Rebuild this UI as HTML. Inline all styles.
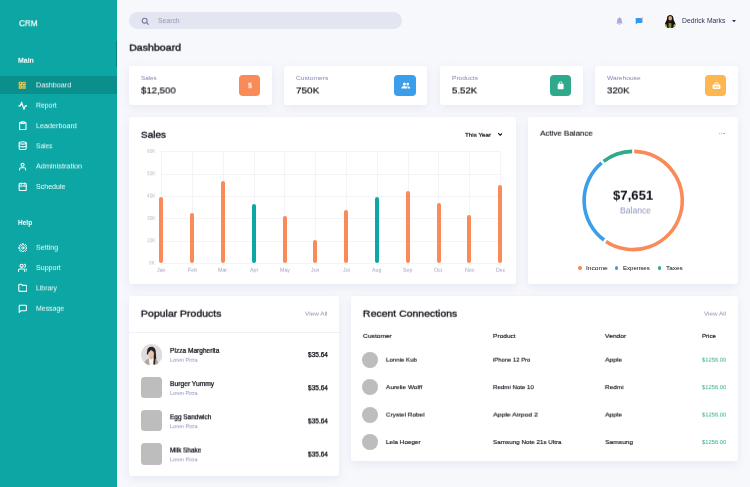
<!DOCTYPE html>
<html><head><meta charset="utf-8"><title>CRM Dashboard</title>
<style>
html,body{margin:0;padding:0;}
body{width:750px;height:487px;overflow:hidden;position:relative;background:#F7F8FC;font-family:"Liberation Sans",sans-serif;}
.t{position:absolute;white-space:nowrap;will-change:transform;transform-origin:0 50%;}
.b{position:absolute;}
</style></head><body>
<div class="b" style="left:0.00px;top:0.00px;width:117.00px;height:487.00px;background:#0CA7A5;"></div>
<div class="b" style="left:0.00px;top:76.00px;width:117.00px;height:17.70px;background:#0A8F8D;"></div>
<div class="b" style="left:116.00px;top:41.00px;width:1.00px;height:26.00px;background:rgba(0,0,0,0.22);"></div>
<div class="t" style="left:18.50px;top:17px;font-size:8.6px;line-height:11px;font-weight:400;color:#fff;letter-spacing:0.000px;transform:translateY(1.26px) rotate(0.03deg) scaleX(0.9446);-webkit-text-stroke:0.2px #fff;">CRM</div>
<div class="t" style="left:18.00px;top:56px;font-size:6.4px;line-height:8px;font-weight:700;color:#fff;letter-spacing:0.000px;transform:translateY(0.79px) rotate(0.03deg) scaleX(1.0906);">Main</div>
<div class="t" style="left:36.00px;top:80px;font-size:6.6px;line-height:8px;font-weight:400;color:rgba(255,255,255,0.93);letter-spacing:0.000px;transform:translateY(1.39px) rotate(0.03deg) scaleX(1.0933);">Dashboard</div>
<div class="t" style="left:36.00px;top:101px;font-size:6.6px;line-height:8px;font-weight:400;color:rgba(255,255,255,0.93);letter-spacing:0.000px;transform:translateY(0.69px) rotate(0.03deg) scaleX(1.0399);">Report</div>
<div class="t" style="left:36.00px;top:121px;font-size:6.6px;line-height:8px;font-weight:400;color:rgba(255,255,255,0.93);letter-spacing:0.000px;transform:translateY(1.19px) rotate(0.03deg) scaleX(1.0926);">Leaderboard</div>
<div class="t" style="left:36.00px;top:141px;font-size:6.6px;line-height:8px;font-weight:400;color:rgba(255,255,255,0.93);letter-spacing:0.000px;transform:translateY(1.29px) rotate(0.03deg) scaleX(0.9873);">Sales</div>
<div class="t" style="left:36.00px;top:162px;font-size:6.6px;line-height:8px;font-weight:400;color:rgba(255,255,255,0.93);letter-spacing:-0.000px;transform:translateY(0.49px) rotate(0.03deg) scaleX(1.1048);">Administration</div>
<div class="t" style="left:36.00px;top:182px;font-size:6.6px;line-height:8px;font-weight:400;color:rgba(255,255,255,0.93);letter-spacing:0.000px;transform:translateY(0.99px) rotate(0.03deg) scaleX(1.0682);">Schedule</div>
<div class="t" style="left:17.90px;top:218px;font-size:6.4px;line-height:8px;font-weight:700;color:#fff;letter-spacing:-0.000px;transform:translateY(0.89px) rotate(0.03deg) scaleX(1.0239);">Help</div>
<div class="t" style="left:36.00px;top:243px;font-size:6.6px;line-height:8px;font-weight:400;color:rgba(255,255,255,0.93);letter-spacing:-0.000px;transform:translateY(0.79px) rotate(0.03deg) scaleX(1.0755);">Setting</div>
<div class="t" style="left:36.00px;top:263px;font-size:6.6px;line-height:8px;font-weight:400;color:rgba(255,255,255,0.93);letter-spacing:0.000px;transform:translateY(1.09px) rotate(0.03deg) scaleX(1.0728);">Support</div>
<div class="t" style="left:36.00px;top:283px;font-size:6.6px;line-height:8px;font-weight:400;color:rgba(255,255,255,0.93);letter-spacing:0.000px;transform:translateY(1.39px) rotate(0.03deg) scaleX(1.0409);">Library</div>
<div class="t" style="left:36.00px;top:304px;font-size:6.6px;line-height:8px;font-weight:400;color:rgba(255,255,255,0.93);letter-spacing:0.000px;transform:translateY(0.79px) rotate(0.03deg) scaleX(1.0530);">Message</div>
<svg class="b" style="left:18.35px;top:81.00px" width="8.4" height="8.4" viewBox="0 0 24 24" fill="none" stroke="#F7C646" stroke-width="3.2" stroke-linecap="round" stroke-linejoin="round"><rect x="3.5" y="3.5" width="6.5" height="6.5"/><rect x="14" y="3.5" width="6.5" height="6.5"/><rect x="3.5" y="14" width="6.5" height="6.5"/><rect x="14" y="14" width="6.500" height="6.500"/></svg>
<svg class="b" style="left:17.50px;top:100.50px" width="9.6" height="9.6" viewBox="0 0 24 24" fill="none" stroke="#fff" stroke-width="2.9" stroke-linecap="round" stroke-linejoin="round"><polyline points="22 12 18 12 15 21 9 3 6 12 2 12"/></svg>
<svg class="b" style="left:17.70px;top:120.80px" width="9.6" height="9.6" viewBox="0 0 24 24" fill="none" stroke="#fff" stroke-width="2.7" stroke-linecap="round" stroke-linejoin="round"><path d="M16 4h2a2 2 0 0 1 2 2v14a2 2 0 0 1-2 2H6a2 2 0 0 1-2-2V6a2 2 0 0 1 2-2h2"/><rect x="8" y="2" width="8" height="4" rx="1"/></svg>
<svg class="b" style="left:17.60px;top:141.10px" width="9.4" height="9.4" viewBox="0 0 24 24" fill="none" stroke="#fff" stroke-width="2.7" stroke-linecap="round" stroke-linejoin="round"><ellipse cx="12" cy="5" rx="9" ry="3"/><path d="M21 12c0 1.66-4 3-9 3s-9-1.34-9-3"/><path d="M3 5v14c0 1.66 4 3 9 3s9-1.34 9-3V5"/></svg>
<svg class="b" style="left:17.90px;top:161.60px" width="9.2" height="9.2" viewBox="0 0 24 24" fill="none" stroke="#fff" stroke-width="2.7" stroke-linecap="round" stroke-linejoin="round"><path d="M20 21v-2a4 4 0 0 0-4-4H8a4 4 0 0 0-4 4v2"/><circle cx="12" cy="7" r="4"/></svg>
<svg class="b" style="left:17.60px;top:181.90px" width="9.4" height="9.4" viewBox="0 0 24 24" fill="none" stroke="#fff" stroke-width="2.7" stroke-linecap="round" stroke-linejoin="round"><rect x="3" y="4" width="18" height="18" rx="2"/><line x1="16" y1="2" x2="16" y2="6"/><line x1="8" y1="2" x2="8" y2="6"/><line x1="3" y1="10" x2="21" y2="10"/></svg>
<svg class="b" style="left:17.50px;top:242.60px" width="9.8" height="9.8" viewBox="0 0 24 24" fill="none" stroke="#fff" stroke-width="2.3" stroke-linecap="round" stroke-linejoin="round"><path d="M10.23 4.61 L10.62 1.69 L13.38 1.69 L13.77 4.61 L15.97 5.52 L18.31 3.73 L20.27 5.69 L18.48 8.03 L19.39 10.23 L22.31 10.62 L22.31 13.38 L19.39 13.77 L18.48 15.97 L20.27 18.31 L18.31 20.27 L15.97 18.48 L13.77 19.39 L13.38 22.31 L10.62 22.31 L10.23 19.39 L8.03 18.48 L5.69 20.27 L3.73 18.31 L5.52 15.97 L4.61 13.77 L1.69 13.38 L1.69 10.62 L4.61 10.23 L5.52 8.03 L3.73 5.69 L5.69 3.73 L8.03 5.52Z"/><circle cx="12" cy="12" r="2.800"/></svg>
<svg class="b" style="left:17.60px;top:262.80px" width="9.6" height="9.6" viewBox="0 0 24 24" fill="none" stroke="#fff" stroke-width="2.7" stroke-linecap="round" stroke-linejoin="round"><path d="M17 21v-2a4 4 0 0 0-4-4H5a4 4 0 0 0-4 4v2"/><circle cx="9" cy="7" r="4"/><path d="M23 21v-2a4 4 0 0 0-3-3.87"/><path d="M16 3.13a4 4 0 0 1 0 7.75"/></svg>
<svg class="b" style="left:17.60px;top:283.10px" width="9.6" height="9.6" viewBox="0 0 24 24" fill="none" stroke="#fff" stroke-width="2.7" stroke-linecap="round" stroke-linejoin="round"><path d="M22 19a2 2 0 0 1-2 2H4a2 2 0 0 1-2-2V5a2 2 0 0 1 2-2h5l2 3h9a2 2 0 0 1 2 2z"/></svg>
<svg class="b" style="left:17.60px;top:303.50px" width="9.6" height="9.6" viewBox="0 0 24 24" fill="none" stroke="#fff" stroke-width="2.7" stroke-linecap="round" stroke-linejoin="round"><path d="M21 15a2 2 0 0 1-2 2H7l-4 4V5a2 2 0 0 1 2-2h14a2 2 0 0 1 2 2z"/></svg>
<div class="b" style="left:129.00px;top:11.60px;width:273.40px;height:17.60px;background:#E3E5F0;border-radius:9px;"></div>
<svg class="b" style="left:140.80px;top:16.50px" width="8.4" height="8.4" viewBox="0 0 24 24" fill="none" stroke="#7277A0" stroke-width="3.0" stroke-linecap="round" stroke-linejoin="round"><circle cx="10.5" cy="10.5" r="7"/><line x1="21" y1="21" x2="15.6" y2="15.6"/></svg>
<div class="t" style="left:157.90px;top:16px;font-size:6.4px;line-height:8px;font-weight:400;color:#9196B4;letter-spacing:0.000px;transform:translateY(1.09px) rotate(0.03deg) scaleX(1.0701);">Search</div>
<svg class="b" style="left:616.2px;top:16.6px" width="7" height="8.4" viewBox="0 0 14 17"><path fill="#A9A8D7" d="M7 0.6c-.7 0-1.2.5-1.2 1.1v.5C3.6 2.8 2.3 4.7 2.3 7v3.4L.8 12.3c-.3.4 0 1 .5 1h11.4c.5 0 .8-.6.5-1l-1.5-1.9V7c0-2.3-1.300-4.200-3.500-4.800v-.5C8.200 1.100 7.700.6 7 .6zM5.300 14.300h3.400c0 .9-.800 1.700-1.700 1.700s-1.700-.8-1.700-1.700z"/></svg>
<svg class="b" style="left:634.6px;top:16.6px" width="8.4" height="8" viewBox="0 0 17 16"><path fill="#2E9AF1" d="M2 2h11.500a1.500 1.500 0 0 1 1.500 1.500v7a1.500 1.500 0 0 1-1.500 1.500H5l-3.500 3V3.500A1.500 1.500 0 0 1 2 2z"/><circle cx="14.600" cy="2.400" r="1.900" fill="#F78B5C" stroke="#F8F9FD" stroke-width=".6"/></svg>
<svg class="b" style="left:663.8px;top:14.6px" width="12.4" height="13.4" viewBox="-14 -15 28 30"><defs><clipPath id="av"><ellipse cx="0" cy="0" rx="14" ry="15"/></clipPath></defs><g clip-path="url(#av)"><rect x="-14" y="-15" width="28" height="30" fill="#FAFAFD"/><path d="M0-15.500c-4.500 0-7 3-7.200 7.500C-7.500-3-10-1-11.500 4c-1 3.500-1.500 7-1.500 11h26c0-4-.5-7.500-1.500-11C10-1 7.500-3 7.200-8 7-12.500 4.500-15.500 0-15.500z" fill="#14110f"/><path d="M-14 15c0-5 1-8.500 3.500-10l3 2.500V15zM14 15c0-5-1-8.500-3.500-10l-3 2.500V15z" fill="#b3b35e"/><ellipse cx="0" cy="-7.400" rx="4.100" ry="5.400" fill="#dba986"/><path d="M-3.700-5.200c1 1.500 2.400 2.200 3.700 2.200s2.700-.7 3.700-2.200c-.2 3-1.500 6.200-3.700 6.200s-3.500-3.200-3.700-6.200z" fill="#3f2b21"/><path d="M-3.800 2.500c1.200.8 2.500 1 3.800 1 1 0 2-.2 2.800-.8L2.500 15h-6z" fill="#7f8a45"/></g></svg>
<div class="t" style="left:681.60px;top:16px;font-size:6.6px;line-height:8px;font-weight:400;color:#2C3556;letter-spacing:0.000px;transform:translateY(0.99px) rotate(0.03deg) scaleX(1.0291);">Dedrick Marks</div>
<svg class="b" style="left:731.6px;top:19.6px" width="4" height="2.4" viewBox="0 0 8 5"><path d="M0 0h8L4 5z" fill="#2C3556"/></svg>
<div class="t" style="left:129.20px;top:41px;font-size:9.4px;line-height:12px;font-weight:400;color:#0B0B14;letter-spacing:0.000px;transform:translateY(0.66px) rotate(0.03deg) scaleX(1.1329);-webkit-text-stroke:0.32px #0B0B14;">Dashboard</div>
<div class="b" style="left:129.00px;top:65.80px;width:143.10px;height:39.10px;background:#fff;border-radius:3px;box-shadow:0 3px 10px rgba(150,160,205,0.16);"></div>
<div class="t" style="left:141.00px;top:74px;font-size:5.6px;line-height:7px;font-weight:400;color:#7E84AE;letter-spacing:0.000px;transform:translateY(0.89px) rotate(0.03deg) scaleX(1.1136);">Sales</div>
<div class="t" style="left:141.00px;top:84px;font-size:9.7px;line-height:12px;font-weight:400;color:#0B0B14;letter-spacing:0.000px;transform:translateY(0.46px) rotate(0.03deg) scaleX(0.9896);-webkit-text-stroke:0.18px #0B0B14;">$12,500</div>
<div class="b" style="left:239.00px;top:74.70px;width:21.30px;height:21.30px;background:#F98B58;border-radius:4px;"></div>
<div class="b" style="left:284.40px;top:65.80px;width:143.10px;height:39.10px;background:#fff;border-radius:3px;box-shadow:0 3px 10px rgba(150,160,205,0.16);"></div>
<div class="t" style="left:296.40px;top:74px;font-size:5.6px;line-height:7px;font-weight:400;color:#7E84AE;letter-spacing:0.000px;transform:translateY(0.89px) rotate(0.03deg) scaleX(1.1930);">Customers</div>
<div class="t" style="left:296.40px;top:84px;font-size:9.7px;line-height:12px;font-weight:400;color:#0B0B14;letter-spacing:-0.000px;transform:translateY(0.46px) rotate(0.03deg) scaleX(1.0285);-webkit-text-stroke:0.18px #0B0B14;">750K</div>
<div class="b" style="left:394.40px;top:74.70px;width:21.30px;height:21.30px;background:#3B9EEA;border-radius:4px;"></div>
<div class="b" style="left:439.80px;top:65.80px;width:143.10px;height:39.10px;background:#fff;border-radius:3px;box-shadow:0 3px 10px rgba(150,160,205,0.16);"></div>
<div class="t" style="left:451.80px;top:74px;font-size:5.6px;line-height:7px;font-weight:400;color:#7E84AE;letter-spacing:0.000px;transform:translateY(0.89px) rotate(0.03deg) scaleX(1.1765);">Products</div>
<div class="t" style="left:451.80px;top:84px;font-size:9.7px;line-height:12px;font-weight:400;color:#0B0B14;letter-spacing:0.000px;transform:translateY(0.46px) rotate(0.03deg) scaleX(0.9980);-webkit-text-stroke:0.18px #0B0B14;">5.52K</div>
<div class="b" style="left:549.80px;top:74.70px;width:21.30px;height:21.30px;background:#2FA98B;border-radius:4px;"></div>
<div class="b" style="left:595.20px;top:65.80px;width:143.10px;height:39.10px;background:#fff;border-radius:3px;box-shadow:0 3px 10px rgba(150,160,205,0.16);"></div>
<div class="t" style="left:607.20px;top:74px;font-size:5.6px;line-height:7px;font-weight:400;color:#7E84AE;letter-spacing:0.000px;transform:translateY(0.89px) rotate(0.03deg) scaleX(1.1818);">Warehouse</div>
<div class="t" style="left:607.20px;top:84px;font-size:9.7px;line-height:12px;font-weight:400;color:#0B0B14;letter-spacing:0.000px;transform:translateY(0.46px) rotate(0.03deg) scaleX(0.9888);-webkit-text-stroke:0.18px #0B0B14;">320K</div>
<div class="b" style="left:705.20px;top:74.70px;width:21.30px;height:21.30px;background:#FDB650;border-radius:4px;"></div>
<div class="t" style="left:247.60px;top:81px;font-size:6.8px;line-height:8px;font-weight:700;color:#fff;letter-spacing:0.000px;transform:translateY(0.79px) rotate(0.03deg) scaleX(1.0577);">$</div>
<svg class="b" style="left:401px;top:81.6px" width="9.6" height="7" viewBox="0 0 24 17" fill="#fff"><circle cx="8.500" cy="4.500" r="3.800"/><circle cx="17" cy="5" r="3.200"/><path d="M1 16c0-4 3-6 7.500-6s7.500 2 7.500 6z"/><path d="M17.500 16c0-2.500-.8-4.300-2.300-5.500.6-.2 1.200-.3 1.800-.3 3.500 0 6 1.800 6 5.800z"/></svg>
<svg class="b" style="left:556.9px;top:81.0px" width="7.3" height="8.8" viewBox="0 0 16 19"><path fill="#fff" d="M3 6h10a1.500 1.500 0 0 1 1.500 1.500v9A1.500 1.500 0 0 1 13 18H3a1.500 1.500 0 0 1-1.500-1.500v-9A1.500 1.500 0 0 1 3 6z"/><path d="M5 8V4.500a3 3 0 0 1 6 0V8" fill="none" stroke="#fff" stroke-width="1.600"/></svg>
<svg class="b" style="left:711.8px;top:81.6px" width="9" height="7.4" viewBox="0 0 18 15"><rect x="1" y="5" width="16" height="9.500" rx="2.200" fill="#fff"/><path d="M5.500 5V3.200a1.700 1.700 0 0 1 1.700-1.700h3.600a1.700 1.700 0 0 1 1.700 1.700V5" fill="none" stroke="#fff" stroke-width="1.700"/><rect x="3.800" y="9" width="10.400" height="2" rx="1" fill="#FDB650"/></svg>
<div class="b" style="left:129.00px;top:116.70px;width:387.10px;height:167.00px;background:#fff;border-radius:3px;box-shadow:0 3px 10px rgba(150,160,205,0.16);"></div>
<div class="t" style="left:140.80px;top:128px;font-size:9.4px;line-height:12px;font-weight:400;color:#0B0B14;letter-spacing:0.000px;transform:translateY(0.76px) rotate(0.03deg) scaleX(1.0589);-webkit-text-stroke:0.32px #0B0B14;">Sales</div>
<div class="t" style="left:465.20px;top:130px;font-size:6.0px;line-height:8px;font-weight:400;color:#0B0B14;letter-spacing:0.000px;transform:translateY(0.79px) rotate(0.03deg) scaleX(1.0393);-webkit-text-stroke:0.2px #0B0B14;">This Year</div>
<svg class="b" style="left:497.9px;top:133.3px" width="4.6" height="3.1" viewBox="0 0 10 6.700" fill="none" stroke="#0B0B14" stroke-width="2.300" stroke-linecap="round" stroke-linejoin="round"><polyline points="1 1 5 5 9 1"/></svg>
<div class="b" style="left:161.40px;top:151.20px;width:339.40px;height:0.60px;background:#F4F4F8;"></div>
<div class="t" style="left:146.57px;top:147px;font-size:4.6px;line-height:6px;font-weight:400;color:#BBBDC8;letter-spacing:0.000px;transform:translateY(1.89px) rotate(0.03deg) scaleX(1.0300);">60K</div>
<div class="b" style="left:161.40px;top:173.55px;width:339.40px;height:0.60px;background:#F4F4F8;"></div>
<div class="t" style="left:146.57px;top:170px;font-size:4.6px;line-height:6px;font-weight:400;color:#BBBDC8;letter-spacing:0.000px;transform:translateY(1.24px) rotate(0.03deg) scaleX(1.0300);">50K</div>
<div class="b" style="left:161.40px;top:195.90px;width:339.40px;height:0.60px;background:#F4F4F8;"></div>
<div class="t" style="left:146.57px;top:192px;font-size:4.6px;line-height:6px;font-weight:400;color:#BBBDC8;letter-spacing:0.000px;transform:translateY(1.59px) rotate(0.03deg) scaleX(1.0300);">40K</div>
<div class="b" style="left:161.40px;top:218.25px;width:339.40px;height:0.60px;background:#F4F4F8;"></div>
<div class="t" style="left:146.57px;top:214px;font-size:4.6px;line-height:6px;font-weight:400;color:#BBBDC8;letter-spacing:0.000px;transform:translateY(1.94px) rotate(0.03deg) scaleX(1.0300);">30K</div>
<div class="b" style="left:161.40px;top:240.60px;width:339.40px;height:0.60px;background:#F4F4F8;"></div>
<div class="t" style="left:146.57px;top:237px;font-size:4.6px;line-height:6px;font-weight:400;color:#BBBDC8;letter-spacing:0.000px;transform:translateY(1.29px) rotate(0.03deg) scaleX(1.0300);">20K</div>
<div class="b" style="left:161.40px;top:262.95px;width:339.40px;height:0.60px;background:#F4F4F8;"></div>
<div class="t" style="left:149.20px;top:259px;font-size:4.6px;line-height:6px;font-weight:400;color:#BBBDC8;letter-spacing:0.000px;transform:translateY(1.64px) rotate(0.03deg) scaleX(1.0300);">0K</div>
<div class="b" style="left:161.10px;top:151.50px;width:0.60px;height:113.75px;background:#F4F4F8;"></div>
<div class="b" style="left:191.90px;top:151.50px;width:0.60px;height:113.75px;background:#F4F4F8;"></div>
<div class="b" style="left:222.70px;top:151.50px;width:0.60px;height:113.75px;background:#F4F4F8;"></div>
<div class="b" style="left:253.50px;top:151.50px;width:0.60px;height:113.75px;background:#F4F4F8;"></div>
<div class="b" style="left:284.30px;top:151.50px;width:0.60px;height:113.75px;background:#F4F4F8;"></div>
<div class="b" style="left:315.10px;top:151.50px;width:0.60px;height:113.75px;background:#F4F4F8;"></div>
<div class="b" style="left:345.90px;top:151.50px;width:0.60px;height:113.75px;background:#F4F4F8;"></div>
<div class="b" style="left:376.70px;top:151.50px;width:0.60px;height:113.75px;background:#F4F4F8;"></div>
<div class="b" style="left:407.50px;top:151.50px;width:0.60px;height:113.75px;background:#F4F4F8;"></div>
<div class="b" style="left:438.30px;top:151.50px;width:0.60px;height:113.75px;background:#F4F4F8;"></div>
<div class="b" style="left:469.10px;top:151.50px;width:0.60px;height:113.75px;background:#F4F4F8;"></div>
<div class="b" style="left:499.90px;top:151.50px;width:0.60px;height:113.75px;background:#F4F4F8;"></div>
<div class="b" style="left:159.35px;top:196.80px;width:4.10px;height:66.65px;background:#F98A59;border-radius:2.05px;"></div>
<div class="t" style="left:157.14px;top:266px;font-size:4.6px;line-height:6px;font-weight:400;color:#A3A6B6;letter-spacing:0.000px;transform:translateY(1.79px) rotate(0.03deg) scaleX(1.1500);">Jan</div>
<div class="b" style="left:190.15px;top:212.60px;width:4.10px;height:50.85px;background:#F98A59;border-radius:2.05px;"></div>
<div class="t" style="left:187.64px;top:266px;font-size:4.6px;line-height:6px;font-weight:400;color:#A3A6B6;letter-spacing:-0.000px;transform:translateY(1.79px) rotate(0.03deg) scaleX(1.1500);">Feb</div>
<div class="b" style="left:220.95px;top:180.60px;width:4.10px;height:82.85px;background:#F98A59;border-radius:2.05px;"></div>
<div class="t" style="left:218.44px;top:266px;font-size:4.6px;line-height:6px;font-weight:400;color:#A3A6B6;letter-spacing:0.000px;transform:translateY(1.79px) rotate(0.03deg) scaleX(1.1500);">Mar</div>
<div class="b" style="left:251.75px;top:204.30px;width:4.10px;height:59.15px;background:#0CA7A5;border-radius:2.05px;"></div>
<div class="t" style="left:249.68px;top:266px;font-size:4.6px;line-height:6px;font-weight:400;color:#A3A6B6;letter-spacing:0.000px;transform:translateY(1.79px) rotate(0.03deg) scaleX(1.1500);">Apr</div>
<div class="b" style="left:282.55px;top:216.30px;width:4.10px;height:47.15px;background:#F98A59;border-radius:2.05px;"></div>
<div class="t" style="left:279.60px;top:266px;font-size:4.6px;line-height:6px;font-weight:400;color:#A3A6B6;letter-spacing:0.000px;transform:translateY(1.79px) rotate(0.03deg) scaleX(1.1500);">May</div>
<div class="b" style="left:313.35px;top:239.50px;width:4.10px;height:23.95px;background:#F98A59;border-radius:2.05px;"></div>
<div class="t" style="left:311.14px;top:266px;font-size:4.6px;line-height:6px;font-weight:400;color:#A3A6B6;letter-spacing:0.000px;transform:translateY(1.79px) rotate(0.03deg) scaleX(1.1500);">Jun</div>
<div class="b" style="left:344.15px;top:210.30px;width:4.10px;height:53.15px;background:#F98A59;border-radius:2.05px;"></div>
<div class="t" style="left:342.82px;top:266px;font-size:4.6px;line-height:6px;font-weight:400;color:#A3A6B6;letter-spacing:0.000px;transform:translateY(1.79px) rotate(0.03deg) scaleX(1.1500);">Jul</div>
<div class="b" style="left:374.95px;top:196.70px;width:4.10px;height:66.75px;background:#0CA7A5;border-radius:2.05px;"></div>
<div class="t" style="left:372.29px;top:266px;font-size:4.6px;line-height:6px;font-weight:400;color:#A3A6B6;letter-spacing:0.000px;transform:translateY(1.79px) rotate(0.03deg) scaleX(1.1500);">Aug</div>
<div class="b" style="left:405.75px;top:191.40px;width:4.10px;height:72.05px;background:#F98A59;border-radius:2.05px;"></div>
<div class="t" style="left:403.09px;top:266px;font-size:4.6px;line-height:6px;font-weight:400;color:#A3A6B6;letter-spacing:0.000px;transform:translateY(1.79px) rotate(0.03deg) scaleX(1.1500);">Sep</div>
<div class="b" style="left:436.55px;top:202.60px;width:4.10px;height:60.85px;background:#F98A59;border-radius:2.05px;"></div>
<div class="t" style="left:434.49px;top:266px;font-size:4.6px;line-height:6px;font-weight:400;color:#A3A6B6;letter-spacing:0.000px;transform:translateY(1.79px) rotate(0.03deg) scaleX(1.1500);">Oct</div>
<div class="b" style="left:467.35px;top:214.50px;width:4.10px;height:48.95px;background:#F98A59;border-radius:2.05px;"></div>
<div class="t" style="left:464.70px;top:266px;font-size:4.6px;line-height:6px;font-weight:400;color:#A3A6B6;letter-spacing:0.000px;transform:translateY(1.79px) rotate(0.03deg) scaleX(1.1500);">Nov</div>
<div class="b" style="left:498.15px;top:184.80px;width:4.10px;height:78.65px;background:#F98A59;border-radius:2.05px;"></div>
<div class="t" style="left:495.50px;top:266px;font-size:4.6px;line-height:6px;font-weight:400;color:#A3A6B6;letter-spacing:0.000px;transform:translateY(1.79px) rotate(0.03deg) scaleX(1.1500);">Dec</div>
<div class="b" style="left:528.10px;top:116.70px;width:210.20px;height:167.00px;background:#fff;border-radius:3px;box-shadow:0 3px 10px rgba(150,160,205,0.16);"></div>
<div class="t" style="left:539.60px;top:128px;font-size:7.0px;line-height:9px;font-weight:400;color:#0B0B14;letter-spacing:0.000px;transform:translateY(0.69px) rotate(0.03deg) scaleX(1.1403);-webkit-text-stroke:0.1px #0B0B14;">Active Balance</div>
<div class="b" style="left:719.20px;top:132.60px;width:1.20px;height:1.20px;background:#9DA2D2;border-radius:50%;"></div>
<div class="b" style="left:721.30px;top:132.60px;width:1.20px;height:1.20px;background:#9DA2D2;border-radius:50%;"></div>
<div class="b" style="left:723.40px;top:132.60px;width:1.20px;height:1.20px;background:#9DA2D2;border-radius:50%;"></div>
<svg class="b" style="left:0;top:0" width="750" height="487"><path d="M634.23 151.41A49.1 49.1 0 1 1 606.03 241.40" stroke="#F98A59" stroke-width="3.6" fill="none" stroke-linecap="butt"/><path d="M604.06 240.02A49.1 49.1 0 0 1 601.64 162.89" stroke="#3B9EEA" stroke-width="3.6" fill="none" stroke-linecap="butt"/><path d="M603.58 161.34A49.1 49.1 0 0 1 632.17 151.41" stroke="#2FA98B" stroke-width="3.6" fill="none" stroke-linecap="butt"/></svg>
<div class="t" style="left:613.00px;top:187px;font-size:13.2px;line-height:16px;font-weight:700;color:#0B0B14;letter-spacing:0.000px;transform:translateY(0.69px) rotate(0.03deg) scaleX(0.9957);">$7,651</div>
<div class="t" style="left:620.00px;top:204px;font-size:8.6px;line-height:11px;font-weight:400;color:#8E95BC;letter-spacing:0.000px;transform:translateY(1.46px) rotate(0.03deg) scaleX(0.9942);">Balance</div>
<div class="b" style="left:578.30px;top:266.40px;width:3.40px;height:3.40px;background:#F98A59;border-radius:50%;"></div>
<div class="t" style="left:585.90px;top:264px;font-size:6.0px;line-height:8px;font-weight:400;color:#0B0B14;letter-spacing:0.000px;transform:translateY(-0.01px) rotate(0.03deg) scaleX(1.1079);">Income</div>
<div class="b" style="left:614.70px;top:266.40px;width:3.40px;height:3.40px;background:#3B9EEA;border-radius:50%;"></div>
<div class="t" style="left:622.50px;top:264px;font-size:6.0px;line-height:8px;font-weight:400;color:#0B0B14;letter-spacing:-0.000px;transform:translateY(-0.01px) rotate(0.03deg) scaleX(1.0171);">Expenses</div>
<div class="b" style="left:657.80px;top:266.40px;width:3.40px;height:3.40px;background:#2FA98B;border-radius:50%;"></div>
<div class="t" style="left:665.60px;top:264px;font-size:6.0px;line-height:8px;font-weight:400;color:#0B0B14;letter-spacing:0.000px;transform:translateY(-0.01px) rotate(0.03deg) scaleX(1.0655);">Taxes</div>
<div class="b" style="left:129.00px;top:295.70px;width:210.10px;height:180.80px;background:#fff;border-radius:3px;box-shadow:0 3px 10px rgba(150,160,205,0.16);"></div>
<div class="t" style="left:140.50px;top:307px;font-size:9.4px;line-height:12px;font-weight:400;color:#0B0B14;letter-spacing:0.000px;transform:translateY(0.66px) rotate(0.03deg) scaleX(1.1164);-webkit-text-stroke:0.3px #0B0B14;">Popular Products</div>
<div class="t" style="left:304.80px;top:309px;font-size:6.2px;line-height:8px;font-weight:400;color:#8B90AE;letter-spacing:0.000px;transform:translateY(0.59px) rotate(0.03deg) scaleX(1.0464);">View All</div>
<div class="b" style="left:129.00px;top:332.20px;width:210.10px;height:0.60px;background:#F0F1F6;"></div>
<svg class="b" style="left:140.6px;top:343.80px" width="21.4" height="21.4" viewBox="0 0 306 306"><defs><clipPath id="pa"><circle cx="153" cy="153" r="153"/></clipPath></defs><g clip-path="url(#pa)"><rect width="306" height="306" fill="#DDDDE0"/><path d="M150 40c-40 0-62 28-62 62 0 22-10 30-4 44 8 8 22 4 30-2l70 4c8 30 4 70 0 100 4 20 20 26 30 10 6-40 4-90-2-130 6-50-22-88-62-88z" fill="#2a2320"/><ellipse cx="143" cy="130" rx="40" ry="48" fill="#E9C7B2"/><path d="M100 128c-4-46 26-64 52-64s38 20 34 46c-16-4-34-14-44-28-8 18-26 36-42 46z" fill="#2a2320"/><path d="M124 168h40v50h-40z" fill="#E4BCA4"/><path d="M112 208l32 16 34-18 4 100h-74z" fill="#F5F5F7"/><path d="M48 306c0-50 12-84 64-100l12 100zM250 306c0-50-12-84-64-100l-12 100z" fill="#B4A792"/><path d="M196 160c10 40 12 90 4 130-8 6-18 2-22-8 6-40 6-80 0-118z" fill="#2a2320"/></g></svg>
<div class="t" style="left:169.60px;top:346px;font-size:6.3px;line-height:8px;font-weight:400;color:#0B0B14;letter-spacing:0.000px;transform:translateY(0.89px) rotate(0.03deg) scaleX(1.0429);-webkit-text-stroke:0.22px #0B0B14;">Pizza Margherita</div>
<div class="t" style="left:169.60px;top:356px;font-size:5.3px;line-height:7px;font-weight:400;color:#8A91C2;letter-spacing:0.000px;transform:translateY(0.79px) rotate(0.03deg) scaleX(0.9370);">Lorem Pizza</div>
<div class="t" style="left:307.50px;top:350px;font-size:6.3px;line-height:8px;font-weight:400;color:#0B0B14;letter-spacing:0.000px;transform:translateY(0.99px) rotate(0.03deg) scaleX(1.0327);-webkit-text-stroke:0.25px #0B0B14;">$35.64</div>
<div class="b" style="left:140.50px;top:376.90px;width:21.40px;height:21.40px;background:#BDBDBD;border-radius:3.5px;"></div>
<div class="t" style="left:169.60px;top:379px;font-size:6.3px;line-height:8px;font-weight:400;color:#0B0B14;letter-spacing:0.000px;transform:translateY(1.09px) rotate(0.03deg) scaleX(1.0613);-webkit-text-stroke:0.22px #0B0B14;">Burger Yummy</div>
<div class="t" style="left:169.60px;top:389px;font-size:5.3px;line-height:7px;font-weight:400;color:#8A91C2;letter-spacing:0.000px;transform:translateY(0.99px) rotate(0.03deg) scaleX(0.9370);">Lorem Pizza</div>
<div class="t" style="left:307.50px;top:383px;font-size:6.3px;line-height:8px;font-weight:400;color:#0B0B14;letter-spacing:0.000px;transform:translateY(1.19px) rotate(0.03deg) scaleX(1.0327);-webkit-text-stroke:0.25px #0B0B14;">$35.64</div>
<div class="b" style="left:140.50px;top:410.10px;width:21.40px;height:21.40px;background:#BDBDBD;border-radius:3.5px;"></div>
<div class="t" style="left:169.60px;top:412px;font-size:6.3px;line-height:8px;font-weight:400;color:#0B0B14;letter-spacing:0.000px;transform:translateY(1.29px) rotate(0.03deg) scaleX(1.0254);-webkit-text-stroke:0.22px #0B0B14;">Egg Sandwich</div>
<div class="t" style="left:169.60px;top:422px;font-size:5.3px;line-height:7px;font-weight:400;color:#8A91C2;letter-spacing:0.000px;transform:translateY(1.19px) rotate(0.03deg) scaleX(0.9370);">Lorem Pizza</div>
<div class="t" style="left:307.50px;top:416px;font-size:6.3px;line-height:8px;font-weight:400;color:#0B0B14;letter-spacing:0.000px;transform:translateY(1.39px) rotate(0.03deg) scaleX(1.0327);-webkit-text-stroke:0.25px #0B0B14;">$35.64</div>
<div class="b" style="left:140.50px;top:443.30px;width:21.40px;height:21.40px;background:#BDBDBD;border-radius:3.5px;"></div>
<div class="t" style="left:169.60px;top:446px;font-size:6.3px;line-height:8px;font-weight:400;color:#0B0B14;letter-spacing:0.000px;transform:translateY(0.49px) rotate(0.03deg) scaleX(1.0126);-webkit-text-stroke:0.22px #0B0B14;">Milk Shake</div>
<div class="t" style="left:169.60px;top:455px;font-size:5.3px;line-height:7px;font-weight:400;color:#8A91C2;letter-spacing:0.000px;transform:translateY(1.39px) rotate(0.03deg) scaleX(0.9370);">Lorem Pizza</div>
<div class="t" style="left:307.50px;top:450px;font-size:6.3px;line-height:8px;font-weight:400;color:#0B0B14;letter-spacing:0.000px;transform:translateY(0.59px) rotate(0.03deg) scaleX(1.0327);-webkit-text-stroke:0.25px #0B0B14;">$35.64</div>
<div class="b" style="left:350.70px;top:295.70px;width:387.60px;height:165.00px;background:#fff;border-radius:3px;box-shadow:0 3px 10px rgba(150,160,205,0.16);"></div>
<div class="t" style="left:362.60px;top:307px;font-size:9.4px;line-height:12px;font-weight:400;color:#0B0B14;letter-spacing:0.000px;transform:translateY(0.66px) rotate(0.03deg) scaleX(1.1152);-webkit-text-stroke:0.3px #0B0B14;">Recent Connections</div>
<div class="t" style="left:704.00px;top:309px;font-size:6.2px;line-height:8px;font-weight:400;color:#8B90AE;letter-spacing:0.000px;transform:translateY(0.59px) rotate(0.03deg) scaleX(1.0186);">View All</div>
<div class="t" style="left:362.60px;top:332px;font-size:6.0px;line-height:8px;font-weight:400;color:#0B0B14;letter-spacing:0.000px;transform:translateY(-0.11px) rotate(0.03deg) scaleX(1.1035);-webkit-text-stroke:0.14px #0B0B14;">Customer</div>
<div class="t" style="left:492.50px;top:332px;font-size:6.0px;line-height:8px;font-weight:400;color:#0B0B14;letter-spacing:0.000px;transform:translateY(-0.11px) rotate(0.03deg) scaleX(1.0929);-webkit-text-stroke:0.14px #0B0B14;">Product</div>
<div class="t" style="left:605.10px;top:332px;font-size:6.0px;line-height:8px;font-weight:400;color:#0B0B14;letter-spacing:0.000px;transform:translateY(-0.11px) rotate(0.03deg) scaleX(1.1095);-webkit-text-stroke:0.14px #0B0B14;">Vendor</div>
<div class="t" style="left:701.90px;top:332px;font-size:6.0px;line-height:8px;font-weight:400;color:#0B0B14;letter-spacing:0.000px;transform:translateY(-0.11px) rotate(0.03deg) scaleX(1.0095);-webkit-text-stroke:0.14px #0B0B14;">Price</div>
<div class="b" style="left:362.40px;top:352.00px;width:15.80px;height:15.80px;background:#BDBDBD;border-radius:50%;"></div>
<div class="t" style="left:386.00px;top:356px;font-size:5.8px;line-height:7px;font-weight:400;color:#0B0B14;letter-spacing:0.000px;transform:translateY(0.69px) rotate(0.03deg) scaleX(1.0528);-webkit-text-stroke:0.12px #0B0B14;">Lonnie Kub</div>
<div class="t" style="left:492.50px;top:356px;font-size:5.8px;line-height:7px;font-weight:400;color:#0B0B14;letter-spacing:0.000px;transform:translateY(0.69px) rotate(0.03deg) scaleX(1.0147);-webkit-text-stroke:0.12px #0B0B14;">iPhone 12 Pro</div>
<div class="t" style="left:605.10px;top:356px;font-size:5.8px;line-height:7px;font-weight:400;color:#0B0B14;letter-spacing:0.000px;transform:translateY(0.69px) rotate(0.03deg) scaleX(1.1459);-webkit-text-stroke:0.12px #0B0B14;">Apple</div>
<div class="t" style="left:701.90px;top:356px;font-size:5.8px;line-height:7px;font-weight:400;color:#2FA98B;letter-spacing:0.000px;transform:translateY(0.69px) rotate(0.03deg) scaleX(0.9962);">$1256.00</div>
<div class="b" style="left:362.40px;top:379.45px;width:15.80px;height:15.80px;background:#BDBDBD;border-radius:50%;"></div>
<div class="t" style="left:386.00px;top:383px;font-size:5.8px;line-height:7px;font-weight:400;color:#0B0B14;letter-spacing:0.000px;transform:translateY(1.14px) rotate(0.03deg) scaleX(1.1081);-webkit-text-stroke:0.12px #0B0B14;">Aurelie Wolff</div>
<div class="t" style="left:492.50px;top:383px;font-size:5.8px;line-height:7px;font-weight:400;color:#0B0B14;letter-spacing:0.000px;transform:translateY(1.14px) rotate(0.03deg) scaleX(1.0572);-webkit-text-stroke:0.12px #0B0B14;">Redmi Note 10</div>
<div class="t" style="left:605.10px;top:383px;font-size:5.8px;line-height:7px;font-weight:400;color:#0B0B14;letter-spacing:0.000px;transform:translateY(1.14px) rotate(0.03deg) scaleX(1.1038);-webkit-text-stroke:0.12px #0B0B14;">Redmi</div>
<div class="t" style="left:701.90px;top:383px;font-size:5.8px;line-height:7px;font-weight:400;color:#2FA98B;letter-spacing:0.000px;transform:translateY(1.14px) rotate(0.03deg) scaleX(0.9962);">$1256.00</div>
<div class="b" style="left:362.40px;top:406.90px;width:15.80px;height:15.80px;background:#BDBDBD;border-radius:50%;"></div>
<div class="t" style="left:386.00px;top:411px;font-size:5.8px;line-height:7px;font-weight:400;color:#0B0B14;letter-spacing:0.000px;transform:translateY(0.59px) rotate(0.03deg) scaleX(1.1059);-webkit-text-stroke:0.12px #0B0B14;">Crystel Robel</div>
<div class="t" style="left:492.50px;top:411px;font-size:5.8px;line-height:7px;font-weight:400;color:#0B0B14;letter-spacing:0.000px;transform:translateY(0.59px) rotate(0.03deg) scaleX(1.1900);-webkit-text-stroke:0.12px #0B0B14;">Apple Airpod 2</div>
<div class="t" style="left:605.10px;top:411px;font-size:5.8px;line-height:7px;font-weight:400;color:#0B0B14;letter-spacing:0.000px;transform:translateY(0.59px) rotate(0.03deg) scaleX(1.1459);-webkit-text-stroke:0.12px #0B0B14;">Apple</div>
<div class="t" style="left:701.90px;top:411px;font-size:5.8px;line-height:7px;font-weight:400;color:#2FA98B;letter-spacing:0.000px;transform:translateY(0.59px) rotate(0.03deg) scaleX(0.9962);">$1256.00</div>
<div class="b" style="left:362.40px;top:434.35px;width:15.80px;height:15.80px;background:#BDBDBD;border-radius:50%;"></div>
<div class="t" style="left:386.00px;top:438px;font-size:5.8px;line-height:7px;font-weight:400;color:#0B0B14;letter-spacing:0.000px;transform:translateY(1.04px) rotate(0.03deg) scaleX(1.0949);-webkit-text-stroke:0.12px #0B0B14;">Lela Hoeger</div>
<div class="t" style="left:492.50px;top:438px;font-size:5.8px;line-height:7px;font-weight:400;color:#0B0B14;letter-spacing:0.000px;transform:translateY(1.04px) rotate(0.03deg) scaleX(1.0841);-webkit-text-stroke:0.12px #0B0B14;">Samsung Note 21s Ultra</div>
<div class="t" style="left:605.10px;top:438px;font-size:5.8px;line-height:7px;font-weight:400;color:#0B0B14;letter-spacing:0.000px;transform:translateY(1.04px) rotate(0.03deg) scaleX(1.1468);-webkit-text-stroke:0.12px #0B0B14;">Samsung</div>
<div class="t" style="left:701.90px;top:438px;font-size:5.8px;line-height:7px;font-weight:400;color:#2FA98B;letter-spacing:0.000px;transform:translateY(1.04px) rotate(0.03deg) scaleX(0.9962);">$1256.00</div>
</body></html>
